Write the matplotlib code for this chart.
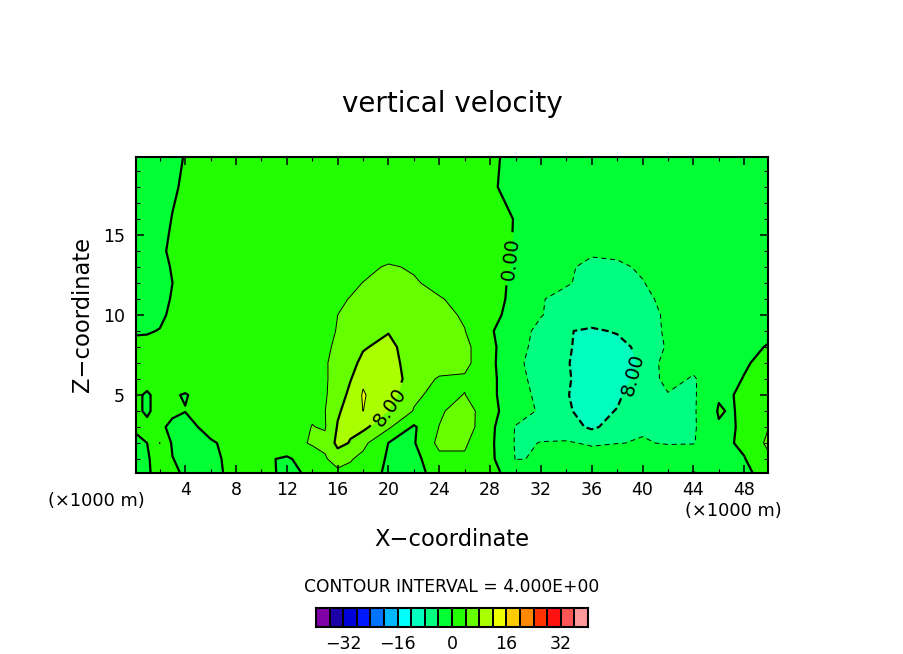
import numpy as np
import matplotlib
matplotlib.use("Agg")
import matplotlib.pyplot as plt
from matplotlib.colors import ListedColormap, BoundaryNorm

x_km = [0, 2, 4, 6, 8, 10, 12, 14, 16, 18, 20, 22, 24, 26, 28, 30, 32, 34, 36, 38, 40, 42, 44, 46, 48, 50]
z_km = [0, 1, 2, 3, 4, 5, 6, 7, 8, 9, 10, 11, 12, 13, 14, 16, 18, 20]

w_z00 = [-1.5,1,-.2,-.5,.5,.7,-.5,.3,2.5,2.5,-1,-.8,.8,1.5,.8,-1,-2,-2,-.3,.2,-1,-.5,.2,-.3,-.3,.5]
w_z01 = [-1.5,1.2,-1,-.6,.8,.5,-.4,1.5,6,3,-.5,-1.3,3,3.5,.9,-4.1,-3.85,-3,-2,-1.5,-2.5,-2,-1,-.5,-.2,3.5]
w_z02 = [-1,4.1,-2.5,-.5,1.5,2,2,4.5,9,5,-.05,-.3,5,4.5,.8,-4.3,-3.95,-3.6,-4.5,-4.1,-3.8,-4.2,-4.2,-1.2,.8,5]
w_z03 = [.5,.5,-1.5,1.5,2,2,2,4.1,8.3,9,4.6,-.5,4.1,6,1,-4.2,-4.5,-6.5,-8.6,-6.5,-4.3,-4.6,-4.5,-.3,.2,4.1]
w_z04 = [.5,.8,.1,1,2,2,2,3.5,7.5,12.05,7.8,3.8,3.4,6,1.2,-2.2,-4.5,-7.5,-9.5,-7.8,-4.8,-4.8,-4.5,.3,.8,2.5]
w_z05 = [.5,.8,-.2,1.5,2,2,2,3.3,5,12.3,9.7,4.6,3,4.1,1.1,-3,-4.6,-7.7,-10.5,-8.8,-5,-4.2,-4.5,-.3,1,2.5]
w_z06 = [.8,1,1.5,2,2,2,2,2.5,5.3,11.5,10.5,6,3.6,3.5,1.2,-3.3,-4.8,-7.4,-10.5,-10.5,-6,-3,-4.3,-1.9,.2,2]
w_z07 = [.6,1,1.5,2,2,2,2,3,5,8.8,9.5,6.2,5.8,5,1,-3.5,-5,-7.7,-10,-10,-7.5,-2,-3.2,-2.2,-.5,1.5]
w_z08 = [.5,1,1.5,2,2,2,2,3.2,4.3,7.7,9,6,5.8,5,1,-3,-5,-7.7,-9,-9.2,-7,-3.5,-2.8,-2.2,-1,.3]
w_z09 = [-.2,.1,1.2,1.8,2,2,2,2.9,4.1,5.5,7.8,6.5,5.5,4.1,.5,-3,-4.6,-7.8,-8.5,-7.7,-5.5,-3.5,-2.8,-2.3,-1.7,-.8]
w_z10 = [-1.5,-.5,1.5,1.8,2,2,2,2.8,4,5,6,6.5,5,3.6,.9,-1.1,-3.9,-5,-6,-6.2,-5.2,-3.5,-2.7,-2.2,-2,-1.8]
w_z11 = [-2.2,-.8,1.2,1.8,2,2,2,2.5,3.6,4.6,5.5,5.5,4.2,3.2,1.2,-.8,-3.8,-5,-5.5,-5.7,-4.7,-3.2,-2.5,-2.2,-2,-2]
w_z12 = [-2.2,-1,1,1.8,2,2,2,2.3,3,4.05,5,4.3,3.2,2.7,1.3,-.7,-3,-3.7,-5,-5.2,-4.1,-3,-2.5,-2.2,-2,-2]
w_z13 = [-2.2,-.8,1.2,1.8,2,2,2,2,2.5,3.3,4.3,3.7,3,2.5,1.6,-.4,-3,-3.7,-4.5,-4.4,-3.7,-3,-2.5,-2.2,-2.2,-2.2]
w_z14 = [-2,-.6,1.4,1.8,2,2,2,2,2.2,2.5,2.7,2.7,2.5,2.2,1.7,-.3,-2.7,-3.4,-3.7,-3.5,-3,-2.5,-2.2,-2,-2,-2]
w_z16 = [-2,-.9,1.1,1.5,1.8,1.8,1.8,1.8,1.8,2,2,2,2,2,1.8,-.2,-2,-2.5,-2.7,-2.5,-2.3,-2,-2,-2,-2,-2]
w_z18 = [-2,-1,.4,1,1.5,1.5,1.5,1.5,1.5,1.5,1.5,1.5,1.5,1.5,.6,-1.4,-1.8,-1.8,-1.8,-1.8,-1.8,-1.8,-1.8,-1.8,-1.8,-1.8]
w_z20 = [-2,-1.5,.1,1,1.5,1.5,1.5,1.5,1.5,1.5,1.5,1.5,1.5,1.5,.8,-1.2,-1.5,-1.5,-1.5,-1.5,-1.5,-1.5,-1.5,-1.5,-1.5,-1.5]

# extra columns, one value per entry of z_km
w_x01 = [-.4,-.3,0,.5,-.3,-.3,.9,.8,.7,-.2,-1,-1.5,-1.6,-1.5,-1.3,-1.5,-1.5,-1.7]
w_x03 = [.4,.1,-.5,-.6,.5,.3,1.2,1.2,1.2,.7,.5,.2,0,.2,.6,.1,-.35,-.6]
w_x15 = [1.5,3.5,5,3.7,3.9,3.8,3.6,3.7,3.7,3.5,3.3,3,2.6,2.2,2.1,1.8,1.5,1.5]
w_x17 = [2.8,4.3,7.8,8.6,9.5,9.5,7.7,7,6,4.8,4.5,4.1,3.5,2.9,2.3,1.9,1.5,1.5]
w_x47 = [-.2,-.3,-.2,-.1,-.3,-.2,-.9,-1.3,-1.5,-2,-2.1,-2.1,-2.1,-2.2,-2,-2,-1.8,-1.5]
extra_x = [1, 3, 15, 17, 47]

levels = list(range(-40, 41, 4))
level_colors = ['#7f00a6', '#1e00a8', '#0000d8', '#0018ff', '#0073ff', '#00b8ff', '#00ffff',
                '#00ffbf', '#00ff80', '#00ff33', '#22ff00', '#66ff00', '#aaff00', '#eeff00',
                '#ffcc00', '#ff8800', '#ff3300', '#ff1111', '#ff5555', '#ff9999']
bar_ticks = [-32, -16, 0, 16, 32]

W = np.array([w_z00, w_z01, w_z02, w_z03, w_z04, w_z05, w_z06, w_z07, w_z08, w_z09,
              w_z10, w_z11, w_z12, w_z13, w_z14, w_z16, w_z18, w_z20])
W = np.hstack([W, np.array([w_x01, w_x03, w_x15, w_x17, w_x47]).T])
X = np.array(x_km + extra_x)
order = np.argsort(X)
X = X[order]
W = W[:, order]

cmap = ListedColormap(level_colors)
norm = BoundaryNorm(levels, cmap.N)

W_PX, H_PX = 904, 654
fig = plt.figure(figsize=(W_PX / 100, H_PX / 100), dpi=100, facecolor='white')
plt.rcParams['font.family'] = ['DejaVu Sans']


def box(l, t, r, b):
    return [l / W_PX, 1 - b / H_PX, (r - l) / W_PX, (b - t) / H_PX]


ax = fig.add_axes(box(136, 157, 768, 473))
ax.contourf(X, z_km, W, levels=levels, cmap=cmap, norm=norm, antialiased=False)
c0 = ax.contour(X, z_km, W, levels=[0], colors='k', linewidths=1.6, linestyles='solid')
cp8 = ax.contour(X, z_km, W, levels=[8], colors='k', linewidths=1.6, linestyles='solid')
cn8 = ax.contour(X, z_km, W, levels=[-8], colors='k', linewidths=1.6, linestyles=[(0, (3.2, 1.6))])
ax.contour(X, z_km, W, levels=[4, 12], colors='k', linewidths=0.7, linestyles='solid')
ax.contour(X, z_km, W, levels=[-12, -4], colors='k', linewidths=0.7, linestyles=[(0, (5, 4))])
ax.clabel(c0, fmt={0: '0.00'}, manual=[(29.6, 13.5)], fontsize=14, inline=True)
ax.clabel(cp8, fmt={8: '8.00'}, manual=[(19.4, 4.6)], fontsize=14, inline=True)
ax.clabel(cn8, fmt={-8: '8.00'}, manual=[(38.6, 6.5)], fontsize=14, inline=True)

ax.set_xlim(0.125, 49.875)
ax.set_ylim(0.125, 19.875)
ax.set_xticks(range(4, 49, 4))
ax.set_xticks(range(2, 50, 4), minor=True)
ax.set_yticks([5, 10, 15])
ax.set_yticks([z for z in range(1, 20) if z % 5], minor=True)
ax.tick_params(which='major', direction='in', length=5.8, width=1.1, top=True, right=True,
               labelsize=12.5, pad=6)
ax.tick_params(which='minor', direction='in', length=2.9, width=0.8, top=True, right=True)
ax.tick_params(axis='y', which='major', pad=8)
for s in ax.spines.values():
    s.set_linewidth(1.5)
ax.set_axisbelow(False)

fig.text(452 / W_PX, 1 - 104 / H_PX, 'vertical velocity', ha='center', va='center', fontsize=20)
fig.text(452 / W_PX, 1 - 539 / H_PX, 'X\u2212coordinate', ha='center', va='center', fontsize=16.3)
fig.text(83 / W_PX, 1 - 314 / H_PX, 'Z\u2212coordinate', ha='center', va='center', rotation=90, fontsize=16.3)
fig.text(96 / W_PX, 1 - 501 / H_PX, '(\u00d71000 m)', ha='center', va='center', fontsize=12.8)
fig.text(733 / W_PX, 1 - 511 / H_PX, '(\u00d71000 m)', ha='center', va='center', fontsize=12.8)
fig.text(452 / W_PX, 1 - 587 / H_PX, 'CONTOUR INTERVAL = 4.000E+00', ha='center', va='center', fontsize=12.3)

cax = fig.add_axes(box(316, 608, 588, 627))
cax.pcolormesh(levels, [0, 1], np.array([[(a + b) / 2 for a, b in zip(levels[:-1], levels[1:])]]),
               cmap=cmap, norm=norm, edgecolors='k', linewidth=1.4)
cax.set_xlim(levels[0], levels[-1])
cax.set_yticks([])
cax.set_xticks(bar_ticks)
cax.set_xticklabels([str(t).replace('-', '\u2212') for t in bar_ticks], fontsize=12.5)
cax.tick_params(length=0, pad=6)
for s in cax.spines.values():
    s.set_linewidth(1.5)

fig.savefig('out.png', dpi=100)
